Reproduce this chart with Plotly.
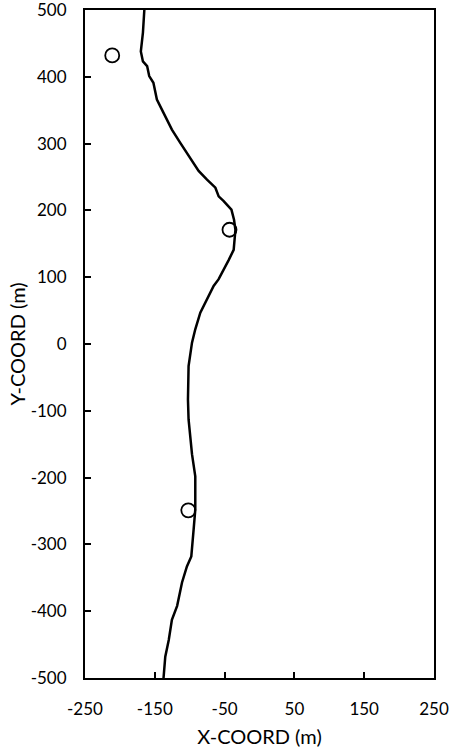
import plotly.graph_objects as go

# Centerline trace (x, y in metres)
line_x = [-165, -167, -170, -167, -161, -158, -152, -147, -137.5, -125.5, -113.5, -104, -94.4, -87.2,
          -75.2, -63.2, -58.5, -51.3, -40.2, -36.5, -34.5, -37, -44, -51, -58.5, -65.7, -75.2, -84.8,
          -92, -96.7, -101.6, -102.5, -101.6, -99, -96.7, -92, -92, -94.4, -97.7, -104, -111, -118,
          -125.5, -130, -135, -137.5]
line_y = [500, 466, 438, 423, 416, 401, 391, 366, 346, 321, 301, 286, 271, 259,
          246, 234, 221, 214, 201, 186, 171, 141, 126, 111, 97, 87, 67, 47,
          22, 2, -33, -83, -113, -143, -165, -198, -248, -278, -318, -333, -357, -392,
          -413, -443, -468, -500]

# Circle markers
pt_x = [-211, -43, -102]
pt_y = [432, 171, -249]

x_ticks = [-250, -150, -50, 50, 150, 250]
y_ticks = [-500, -400, -300, -200, -100, 0, 100, 200, 300, 400, 500]

fig = go.Figure()
fig.add_trace(go.Scatter(x=line_x, y=line_y, mode="lines",
                         line=dict(color="black", width=2.5), showlegend=False))
fig.add_trace(go.Scatter(x=pt_x, y=pt_y, mode="markers",
                         marker=dict(symbol="circle-open", size=14, color="black",
                                     line=dict(width=1.8, color="black")),
                         showlegend=False))

font = dict(family="Lato, Liberation Sans, sans-serif", size=17, color="black")
fig.update_layout(
    width=451, height=755,
    margin=dict(l=85, r=17, t=10, b=77),
    paper_bgcolor="white", plot_bgcolor="white",
    font=font,
    xaxis=dict(range=[-250, 250], tickvals=x_ticks, ticktext=[str(v) for v in x_ticks],
               ticks="inside", ticklen=6, tickwidth=2, automargin=False,
               ticklabelstandoff=15, ticklabeloverflow="allow",
               tickcolor="black", showline=True, linecolor="black", linewidth=2, mirror=True,
               showgrid=False, zeroline=False, title=dict(text="X-COORD (m)", standoff=12)),
    yaxis=dict(range=[-500, 500], tickvals=y_ticks, ticktext=[str(v) for v in y_ticks],
               ticks="inside", ticklen=6, tickwidth=2, automargin=False,
               ticklabelstandoff=13, ticklabeloverflow="allow",
               tickcolor="black", showline=True, linecolor="black", linewidth=2, mirror=True,
               showgrid=False, zeroline=False, title=dict(text="Y-COORD (m)", standoff=0)),
)

fig.write_html("out.html", config={"displayModeBar": False},
               post_script="document.body.style.margin='0';")
